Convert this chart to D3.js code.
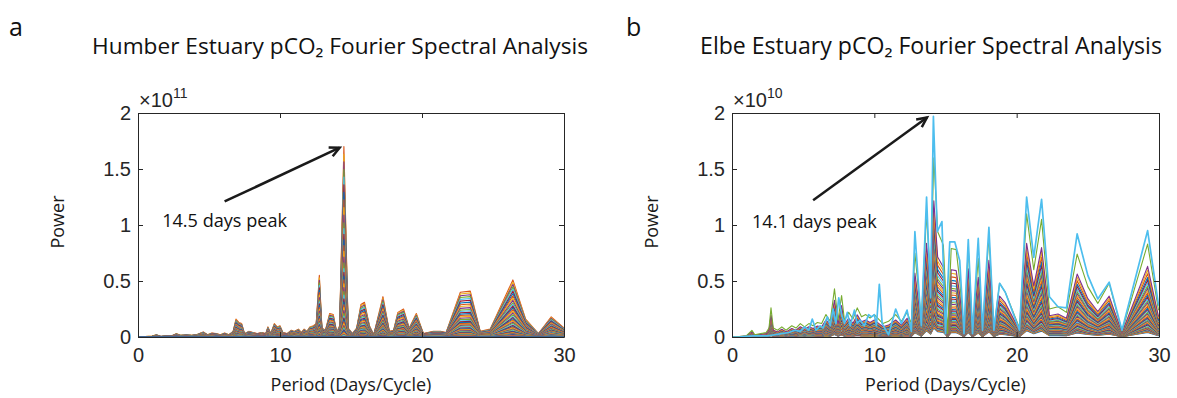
<!DOCTYPE html>
<html>
<head>
<meta charset="utf-8">
<script src="https://cdn.jsdelivr.net/npm/d3@7"></script>
<style>
  body { margin: 0; background: #fff; }
  svg { display: block; }
</style>
</head>
<body>
<div id="chart"></div>
<script>
// MATLAB default line colour order
const matlabColors = ["#0072BD", "#D95319", "#EDB120", "#7E2F8E", "#77AC30", "#4DBEEE", "#A2142F"];

const xTicks = [0, 10, 20, 30];
const yTicks = [0, 0.5, 1, 1.5, 2];
const yTickLabels = ["0", "0.5", "1", "1.5", "2"];

// ---- panel a: Humber (power in 1e11) ----
const humberPeriod = [0, 0.5, 1.0, 1.3, 1.6, 2.0, 2.4, 2.7, 3.0, 3.4, 3.8, 4.2, 4.6, 4.9, 5.2, 5.5, 5.8, 6.1, 6.4, 6.7,
  6.9, 7.1, 7.3, 7.5, 7.8, 8.1, 8.4, 8.7, 9.0, 9.15, 9.35, 9.6, 9.8, 10.0, 10.2, 10.5, 10.8, 11.0, 11.3, 11.5,
  11.7, 11.9, 12.1, 12.35, 12.55, 12.77, 12.95, 13.2, 13.5, 13.75, 14.0, 14.2, 14.5, 14.8, 15.1, 15.4, 15.7, 15.95, 16.3, 16.6,
  17.25, 17.7, 18.0, 18.3, 18.7, 19.1, 19.6, 20.1, 20.8, 21.3, 21.7, 22.7, 23.4, 24.1, 24.8, 26.4, 27.3, 28.2, 29.1, 30.0];
const humberPower = [0, 0.005, 0.008, 0.02, 0.005, 0.01, 0.012, 0.03, 0.015, 0.02, 0.015, 0.025, 0.045, 0.02, 0.035, 0.03, 0.02, 0.035, 0.02, 0.05,
  0.16, 0.13, 0.12, 0.03, 0.05, 0.04, 0.03, 0.04, 0.03, 0.09, 0.03, 0.12, 0.09, 0.1, 0.04, 0.03, 0.06, 0.05, 0.07, 0.04,
  0.07, 0.05, 0.09, 0.1, 0.12, 0.55, 0.08, 0.06, 0.21, 0.2, 0.04, 0.1, 1.70, 0.08, 0.03, 0.08, 0.29, 0.31, 0.1, 0.02,
  0.36, 0.05, 0.06, 0.22, 0.25, 0.08, 0.21, 0.03, 0.05, 0.05, 0.04, 0.40, 0.41, 0.05, 0.07, 0.51, 0.16, 0.03, 0.18, 0.08];
// relative size of each plotted spectrum
const humberLevels = [1.00, 0.96, 0.92, 0.88, 0.84, 0.80, 0.76, 0.72, 0.68, 0.64, 0.60, 0.57, 0.54, 0.51, 0.48, 0.45, 0.42,
  0.39, 0.36, 0.34, 0.32, 0.30, 0.28, 0.26, 0.24, 0.22, 0.20, 0.185, 0.17, 0.155, 0.14, 0.125, 0.11, 0.10, 0.09, 0.08,
  0.07, 0.06, 0.052, 0.045, 0.038, 0.032, 0.026, 0.02, 0.015, 0.01, 0.006, 0.003, 0];

// ---- panel b: Elbe (power in 1e10) ----
const elbeBulkPeriod = [0, 0.5, 1.0, 1.4, 1.6, 2.0, 2.4, 2.6, 2.74, 2.9, 3.2, 3.5, 3.8, 4.2, 4.5, 4.8, 5.1, 5.4, 5.7, 6.0,
  6.3, 6.6, 6.9, 7.2, 7.45, 7.7, 7.9, 8.2, 8.5, 8.8, 9.1, 9.4, 9.7, 10.0, 10.3, 10.6, 11.0, 11.5, 11.9, 12.3,
  12.6, 12.85, 13.3, 13.67, 13.95, 14.18, 14.45, 14.85, 15.15, 15.4, 15.75, 16.0, 16.3, 16.6, 16.9, 17.3, 17.6, 18.05, 18.4, 18.8,
  19.2, 20.2, 20.7, 21.2, 21.75, 22.3, 22.9, 23.5, 24.25, 25.0, 25.7, 26.5, 27.4, 29.2, 29.95, 30.0];
const elbeBulkPower = [0, 0.005, 0.01, 0.06, 0.02, 0.03, 0.04, 0.08, 0.26, 0.08, 0.06, 0.09, 0.06, 0.1, 0.08, 0.12, 0.09, 0.12, 0.1, 0.13,
  0.12, 0.2, 0.14, 0.43, 0.15, 0.37, 0.15, 0.22, 0.16, 0.26, 0.18, 0.2, 0.17, 0.2, 0.16, 0.12, 0.14, 0.2, 0.14, 0.22,
  0.12, 0.75, 0.15, 1.1, 0.5, 1.6, 0.94, 0.82, 0.03, 0.79, 0.78, 0.5, 0.04, 0.8, 0.04, 0.7, 0.07, 0.9, 0.07, 0.48,
  0.4, 0.08, 1.1, 0.6, 1.05, 0.25, 0.27, 0.22, 0.74, 0.45, 0.3, 0.48, 0.05, 0.83, 0.25, 0.24];
const elbeLevels = [0.05, 0.055, 0.06, 0.065, 0.07, 0.075, 0.08, 0.085, 0.09, 0.095, 0.10, 0.11, 0.12, 0.13, 0.14, 0.15,
  0.16, 0.17, 0.18, 0.19, 0.20, 0.21, 0.22, 0.235, 0.25, 0.265, 0.28, 0.295, 0.31, 0.33, 0.35, 0.37, 0.39, 0.41, 0.43,
  0.45, 0.475, 0.50, 0.525, 0.55, 0.58, 0.61, 0.64, 0.68, 0.72, 0.76, 1.00];
// the last (cyan) spectrum, drawn on top
const elbeTopPeriod = [0, 0.5, 1.0, 1.5, 2.0, 2.5, 3.0, 3.5, 4.0, 4.4, 4.8, 5.1, 5.4, 5.64, 5.9, 6.2, 6.4, 6.7, 6.9, 7.1,
  7.3, 7.5, 7.7, 7.9, 8.1, 8.3, 8.6, 8.8, 9.0, 9.3, 9.6, 9.8, 10.0, 10.15, 10.35, 10.55, 11.0, 11.5, 11.9, 12.3,
  12.6, 12.85, 13.3, 13.67, 13.95, 14.15, 14.42, 14.75, 15.0, 15.3, 15.65, 16.0, 16.3, 16.6, 16.9, 17.3, 17.6, 18.05, 18.4, 18.8,
  19.2, 20.2, 20.7, 21.2, 21.75, 22.3, 22.9, 23.5, 24.25, 25.0, 25.7, 26.5, 27.4, 29.2, 29.95, 30.0];
const elbeTopPower = [0, 0, 0.005, 0.01, 0.01, 0.01, 0.02, 0.03, 0.04, 0.06, 0.05, 0.09, 0.06, 0.16, 0.06, 0.1, 0.08, 0.18, 0.1, 0.25,
  0.12, 0.35, 0.2, 0.12, 0.22, 0.1, 0.24, 0.12, 0.15, 0.1, 0.2, 0.18, 0.2, 0.1, 0.47, 0.12, 0.02, 0.25, 0.12, 0.24,
  0.05, 0.94, 0.1, 1.25, 0.35, 1.97, 0.94, 1.03, 0.03, 0.85, 0.85, 0.68, 0.03, 0.87, 0.03, 0.88, 0.06, 0.98, 0.06, 0.48,
  0.40, 0.06, 1.25, 0.71, 1.23, 0.36, 0.27, 0.26, 0.92, 0.55, 0.34, 0.49, 0.06, 0.95, 0.30, 0.28];

const width = 1177, height = 398;
const plotTop = 113, plotBottom = 337;
const axisColor = "#262626";
const tickFont = "'Liberation Sans', Arial, sans-serif";
const textFont = "'Open Sans', 'Noto Sans', sans-serif";

const svg = d3.select("#chart").append("svg")
  .attr("width", width)
  .attr("height", height);

// shrink a text's font size until its width matches the target
function fitWidth(sel, target) {
  const size = parseFloat(sel.style("font-size"));
  const len = sel.node().getComputedTextLength();
  if (len > 0) sel.style("font-size", (size * target / len).toFixed(2) + "px");
}

function drawPanel(cfg) {
  const g = svg.append("g");
  const x = d3.scaleLinear().domain([0, 30]).range([cfg.left, cfg.right]);
  const y = d3.scaleLinear().domain([0, 2]).range([plotBottom, plotTop]);

  svg.append("clipPath").attr("id", "clip-" + cfg.key)
    .append("rect")
    .attr("x", cfg.left).attr("y", plotTop)
    .attr("width", cfg.right - cfg.left).attr("height", plotBottom - plotTop + 1);

  const line = d3.line().x((d) => x(d[0])).y((d) => y(d[1]));

  g.append("g")
    .attr("clip-path", `url(#clip-${cfg.key})`)
    .selectAll("path")
    .data(cfg.series)
    .join("path")
    .attr("d", (d) => line(d.points))
    .attr("fill", "none")
    .attr("stroke", (d) => d.color)
    .attr("stroke-width", (d) => d.width)
    .attr("stroke-linejoin", "round");

  // box with inward ticks on all four sides
  g.append("g").attr("transform", `translate(0,${plotBottom})`)
    .call(d3.axisBottom(x).tickValues(xTicks).tickSize(-5).tickSizeOuter(0).tickPadding(11).tickFormat(d3.format("d")));
  g.append("g").attr("transform", `translate(${cfg.left},0)`)
    .call(d3.axisLeft(y).tickValues(yTicks).tickSize(-5).tickSizeOuter(0).tickPadding(7)
      .tickFormat((d, i) => yTickLabels[i]));
  g.append("g").attr("transform", `translate(0,${plotTop})`)
    .call(d3.axisTop(x).tickValues(xTicks).tickSize(-5).tickSizeOuter(0).tickFormat(""));
  g.append("g").attr("transform", `translate(${cfg.right},0)`)
    .call(d3.axisRight(y).tickValues(yTicks).tickSize(-5).tickSizeOuter(0).tickFormat(""));

  g.selectAll(".domain, .tick line").attr("stroke", axisColor).attr("stroke-width", 1);
  g.selectAll(".tick text")
    .attr("fill", axisColor)
    .style("font-family", tickFont)
    .style("font-size", "20px");

  // exponent above the y axis
  const expo = g.append("text")
    .attr("x", cfg.left + 1)
    .attr("y", plotTop - 6)
    .attr("fill", axisColor)
    .style("font-family", tickFont)
    .style("font-size", "20px")
    .text("×10");
  expo.append("tspan")
    .attr("dy", -9)
    .style("font-size", "14px")
    .text(cfg.exponent);

  // labels
  g.append("text")
    .attr("x", (cfg.left + cfg.right) / 2)
    .attr("y", 391)
    .attr("text-anchor", "middle")
    .attr("fill", "#1a1a1a")
    .style("font-family", textFont)
    .style("font-size", "18px")
    .text("Period (Days/Cycle)");

  g.append("text")
    .attr("transform", `translate(${cfg.left - 74},${(plotTop + plotBottom) / 2 - 3}) rotate(-90)`)
    .attr("text-anchor", "middle")
    .attr("fill", "#1a1a1a")
    .style("font-family", textFont)
    .style("font-size", "18px")
    .text("Power");

  const title = g.append("text")
    .attr("x", cfg.titleX)
    .attr("y", 54)
    .attr("text-anchor", "middle")
    .attr("fill", "#111")
    .style("font-family", textFont)
    .style("font-size", "24px")
    .text(cfg.title);
  fitWidth(title, cfg.titleWidth);

  g.append("text")
    .attr("x", cfg.letterX)
    .attr("y", 36)
    .attr("fill", "#111")
    .style("font-family", textFont)
    .style("font-size", "25px")
    .text(cfg.letter);

  // peak annotation arrow
  const a = cfg.arrow;
  const x1 = x(a.from[0]), y1 = y(a.from[1]), x2 = x(a.to[0]), y2 = y(a.to[1]);
  const ang = Math.atan2(y2 - y1, x2 - x1);
  const head = 11;
  g.append("line")
    .attr("x1", x1).attr("y1", y1).attr("x2", x2).attr("y2", y2)
    .attr("stroke", "#1a1a1a").attr("stroke-width", 2.5);
  g.append("path")
    .attr("d", `M${x2 - head * Math.cos(ang - 0.45)},${y2 - head * Math.sin(ang - 0.45)}L${x2},${y2}L${x2 - head * Math.cos(ang + 0.45)},${y2 - head * Math.sin(ang + 0.45)}`)
    .attr("fill", "none")
    .attr("stroke", "#1a1a1a").attr("stroke-width", 2.5);
  const note = g.append("text")
    .attr("x", x(a.text[0]))
    .attr("y", y(a.text[1]))
    .attr("dy", "0.35em")
    .attr("fill", "#111")
    .style("font-family", textFont)
    .style("font-size", "18px")
    .text(a.label);
  fitWidth(note, 125);
}

const humberSeries = humberLevels.map((lv, i) => ({
  points: humberPeriod.map((p, j) => [p, humberPower[j] * lv]),
  color: matlabColors[(i + 1) % 7],
  width: 1.1,
}));

const elbeSeries = elbeLevels.map((lv, i) => ({
  points: elbeBulkPeriod.map((p, j) => [p, elbeBulkPower[j] * lv]),
  color: matlabColors[i % 7],
  width: 1.1,
}));
elbeSeries.push({
  points: elbeTopPeriod.map((p, j) => [p, elbeTopPower[j]]),
  color: matlabColors[elbeLevels.length % 7],
  width: 1.7,
});

drawPanel({
  key: "a", left: 138, right: 564, series: humberSeries, exponent: "11",
  title: "Humber Estuary pCO₂ Fourier Spectral Analysis", titleX: 340, titleWidth: 496,
  letter: "a", letterX: 9,
  arrow: { from: [6.1, 1.21], to: [14.2, 1.69], text: [1.7, 1.04], label: "14.5 days peak" },
});

drawPanel({
  key: "b", left: 732, right: 1159, series: elbeSeries, exponent: "10",
  title: "Elbe Estuary pCO₂ Fourier Spectral Analysis", titleX: 931, titleWidth: 462,
  letter: "b", letterX: 626,
  arrow: { from: [5.7, 1.22], to: [13.7, 1.96], text: [1.4, 1.03], label: "14.1 days peak" },
});
</script>
</body>
</html>
